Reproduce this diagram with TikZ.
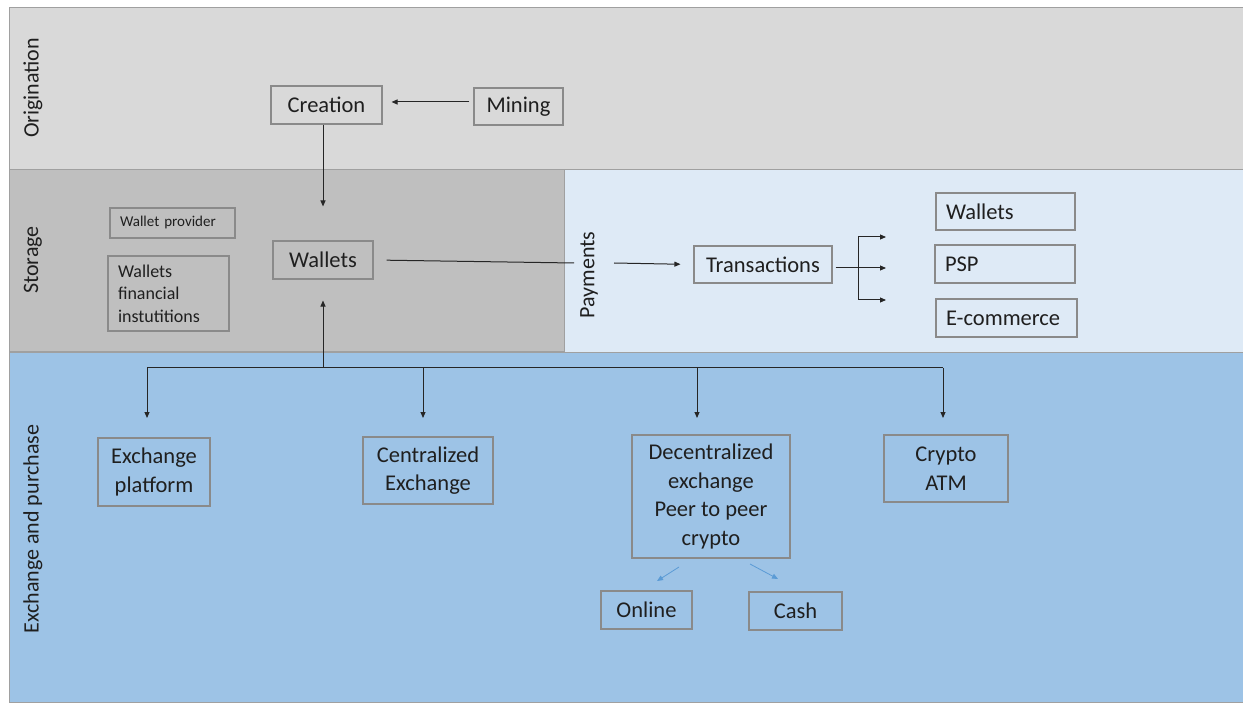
\documentclass[tikz,border=0pt]{standalone}
\usepackage{fontspec}
\setmainfont{Carlito}
\usetikzlibrary{arrows.meta}
\definecolor{origc}{HTML}{D9D9D9}
\definecolor{storc}{HTML}{BFBFBF}
\definecolor{payc}{HTML}{DEEAF6}
\definecolor{exchc}{HTML}{9DC3E6}
\definecolor{bordc}{HTML}{8A8A8A}
\definecolor{bandc}{HTML}{A0A0A0}
\definecolor{lblue}{HTML}{5B9BD5}
\definecolor{txtc}{HTML}{1F1F1F}
\begin{document}
\begin{tikzpicture}[x=1pt,y=-1pt,
  band/.style={draw=bandc, line width=1pt},
  box/.style={draw=bordc, line width=1.1pt, inner sep=0pt, align=center, text=txtc,
    font=\fontsize{22.5}{28.5}\selectfont},
  lbox/.style={box, align=left, inner xsep=10pt},
  lane/.style={rotate=90, text=txtc, font=\fontsize{22}{26}\selectfont},
  conn/.style={draw=black!85, line width=1pt},
  arr/.style={conn, -{Triangle[length=6pt,width=5pt]}},
  barr/.style={draw=lblue, line width=0.8pt, -{Triangle[length=6pt,width=5pt]}}]
\useasboundingbox (0,0) rectangle (1243,703);
\fill[white] (0,0) rectangle (1243,703);
% bands
\filldraw[band, fill=origc] (9,8) rectangle (1243,170);
\filldraw[band, fill=storc] (9,170) rectangle (564,352);
\filldraw[band, fill=payc] (564,170) rectangle (1243,353);
\filldraw[band, fill=exchc] (9,353) rectangle (1243,702);
% lane labels
\node[lane] (lorig) at (33,88) {Origination};
\node[lane] (lstor) at (33,260) {Storage};
\node[lane] (lpay) at (589,275) {Payments};
\node[lane] (lexch) at (33,529) {Exchange and purchase};
% origination
\node[box, minimum width=111, minimum height=38] (creation) at (326.5,105) {Creation};
\node[box, minimum width=89, minimum height=37] (mining) at (518.5,106.5) {Mining};
\draw[arr, shorten <=4pt, shorten >=9pt] (mining.west |- 0,102) -- (creation.east |- 0,102);
% storage
\node[box, minimum width=100, minimum height=38] (wallets) at (323,260) {Wallets};
\node[lbox, font=\fontsize{15}{18}\selectfont, minimum width=125, text width=105, minimum height=30] (wprov) at (172.5,223) {Wallet provider};
\node[lbox, font=\fontsize{18}{22.5}\selectfont, minimum width=121, text width=101, minimum height=75] (wfin) at (168.5,293.5) {Wallets\\financial\\instutitions};
\draw[arr, shorten >=34pt] (creation.south -| wallets.north) -- (wallets.north);
% payments
\coordinate (pin) at (574,263);
\coordinate (pout) at (614,263);
\node[box, minimum width=138, minimum height=37] (trans) at (763,264.5) {Transactions};
\draw[conn, shorten <=13pt] (wallets.east) -- (pin);
\draw[arr, shorten >=13pt] (pout) -- (trans.west);
\node[lbox, minimum width=139, text width=119, minimum height=37] (pw) at (1005.5,211.5) {Wallets};
\node[lbox, minimum width=140, text width=120, minimum height=38] (psp) at (1005,264) {PSP};
\node[lbox, minimum width=141, text width=121, minimum height=38] (ecom) at (1006.5,318) {E-commerce};
\coordinate (br) at (858,268);
\coordinate (br1) at (858,237);
\coordinate (br3) at (858,300);
\coordinate (t1) at (886,237);
\coordinate (t2) at (886,268);
\coordinate (t3) at (886,300);
\draw[conn, shorten <=3pt] (trans.east |- br) -- (br);
\draw[conn] (br1) -- (br3);
\draw[arr] (br1) -- (t1);
\draw[arr] (br) -- (t2);
\draw[arr] (br3) -- (t3);
% exchange
\coordinate (hub) at (323,368);
\coordinate (hl) at (147,368);
\coordinate (hr) at (943,368);
\draw[arr, shorten >=21pt] (hub) -- (wallets.south);
\draw[conn] (hl) -- (hr);
\node[box, minimum width=112, minimum height=68] (eplat) at (154,472) {Exchange\\platform};
\node[box, minimum width=130, minimum height=67] (cex) at (428,470.5) {Centralized\\Exchange};
\node[box, minimum width=158, minimum height=123] (dex) at (711,496.5) {Decentralized\\exchange\\Peer to peer\\crypto};
\node[box, minimum width=124, minimum height=67] (atm) at (946,468.5) {Crypto\\ATM};
\coordinate (d1) at (147,418);
\coordinate (d2) at (423,418);
\coordinate (d3) at (697,418);
\coordinate (d4) at (943,418);
\draw[arr] (hl) -- (d1);
\draw[arr] (423,368) -- (d2);
\draw[arr] (697,368) -- (d3);
\draw[arr] (hr) -- (d4);
\node[box, minimum width=91, minimum height=38] (online) at (646.5,610) {Online};
\node[box, minimum width=93, minimum height=38] (cash) at (795.5,611) {Cash};
\draw[barr] (679,567) -- (657,581);
\draw[barr] (750,564) -- (778,579);
\end{tikzpicture}
\end{document}
